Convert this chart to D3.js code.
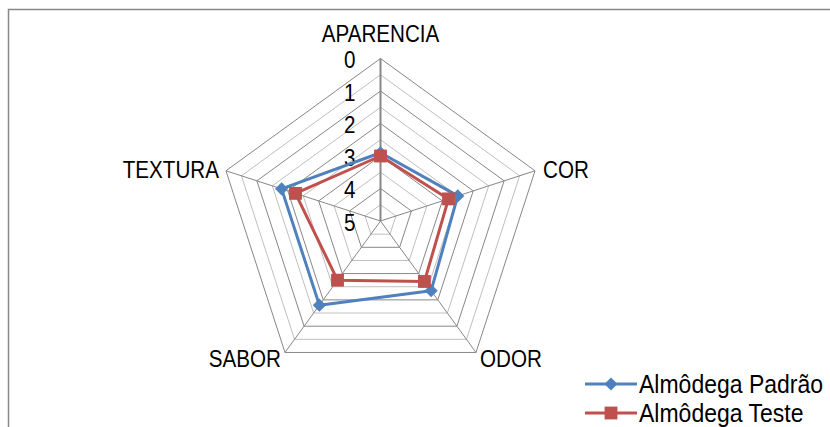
<!DOCTYPE html>
<html>
<head>
<meta charset="utf-8">
<script src="https://cdn.jsdelivr.net/npm/d3@7"></script>
<style>
  body { margin: 0; background: #fff; }
  svg { display: block; }
  text { font-family: "Liberation Sans", Arial, sans-serif; fill: #000; }
</style>
</head>
<body>
<svg id="chart" width="830" height="427"></svg>
<script>
// sensory attributes (axes), clockwise from top
var categories = ["APARENCIA", "COR", "ODOR", "SABOR", "TEXTURA"];
var seriesNames = ["Almôdega Padrão", "Almôdega Teste"];
var padrao = [2.9, 2.5, 2.35, 1.8, 1.8];
var teste = [3.0, 2.8, 2.7, 2.75, 2.25];
var tickLabels = [0, 1, 2, 3, 4, 5];

var width = 830, height = 427;
var cx = 380.5, cy = 221, radius = 162.5;
var colors = ["#4F81BD", "#C0504D"];

var svg = d3.select("#chart");

// frame of the chart area (runs off the right and bottom edge)
svg.append("rect")
  .attr("x", 8.5).attr("y", 9.5)
  .attr("width", 840).attr("height", 440)
  .attr("fill", "none")
  .attr("stroke", "#888")
  .attr("stroke-width", 1.5);

// reversed radial scale: 0 at the rim, 5 at the centre
var r = d3.scaleLinear().domain([0, 5]).range([radius, 0]);
var angle = d3.scaleLinear().domain([0, categories.length]).range([0, 2 * Math.PI]);

function pt(i, v) {
  var a = angle(i);
  return [cx + r(v) * Math.sin(a), cy - r(v) * Math.cos(a)];
}

// the original font is a narrow face, so squeeze the text a bit
function place(x, y, sx) {
  return "translate(" + x + "," + y + ") scale(" + (sx || 0.86) + ",1)";
}

var g = svg.append("g");

// rings every half unit, darker on whole units
var rings = d3.range(0, 5, 0.5);
g.selectAll("polygon.ring")
  .data(rings.slice().reverse())
  .enter().append("polygon")
  .attr("class", "ring")
  .attr("points", function(v) {
    return categories.map(function(c, i) { return pt(i, v).join(","); }).join(" ");
  })
  .attr("fill", "none")
  .attr("stroke", function(v) { return v % 1 === 0 ? "#878787" : "#bfbfbf"; })
  .attr("stroke-width", 1);

// spokes
g.selectAll("line.spoke")
  .data(categories)
  .enter().append("line")
  .attr("class", "spoke")
  .attr("x1", cx).attr("y1", cy)
  .attr("x2", function(d, i) { return pt(i, 0)[0]; })
  .attr("y2", function(d, i) { return pt(i, 0)[1]; })
  .attr("stroke", "#878787")
  .attr("stroke-width", function(d, i) { return i === 0 ? 2 : 1; });

// value tick labels along the top axis
g.selectAll("text.tick")
  .data(tickLabels)
  .enter().append("text")
  .attr("class", "tick")
  .attr("transform", function(d) { return place(cx - 25, cy - r(d) + 1.5); })
  .attr("dy", "0.35em")
  .attr("text-anchor", "end")
  .style("font-size", "24px")
  .text(function(d) { return d; });

// category labels
var labelPos = [
  {x: cx, y: 42, anchor: "middle"},
  {x: 543, y: 178, anchor: "start"},
  {x: 480, y: 367, anchor: "start"},
  {x: 281, y: 367, anchor: "end"},
  {x: 219, y: 178, anchor: "end"}
];
g.selectAll("text.cat")
  .data(categories)
  .enter().append("text")
  .attr("class", "cat")
  .attr("transform", function(d, i) { return place(labelPos[i].x, labelPos[i].y); })
  .attr("text-anchor", function(d, i) { return labelPos[i].anchor; })
  .style("font-size", "24px")
  .text(function(d) { return d; });

// series
var line = d3.line()
  .x(function(d) { return d[0]; })
  .y(function(d) { return d[1]; })
  .curve(d3.curveLinearClosed);

var diamond = d3.symbol().type(d3.symbolDiamond2).size(110);
var square = d3.symbol().type(d3.symbolSquare).size(165);
var markerPaths = [diamond(), square()];

[padrao, teste].forEach(function(vals, s) {
  var pts = vals.map(function(v, i) { return pt(i, v); });
  var sg = g.append("g");
  sg.append("path")
    .attr("d", line(pts))
    .attr("fill", "none")
    .attr("stroke", colors[s])
    .attr("stroke-width", 3)
    .attr("stroke-linejoin", "round");
  sg.selectAll("path.mk")
    .data(pts)
    .enter().append("path")
    .attr("class", "mk")
    .attr("d", markerPaths[s])
    .attr("transform", function(d) { return "translate(" + d[0] + "," + d[1] + ")"; })
    .attr("fill", colors[s]);
});

// legend
var legend = svg.append("g");
var legendY = [384, 413];
seriesNames.forEach(function(name, s) {
  var lg = legend.append("g");
  lg.append("line")
    .attr("x1", 585).attr("x2", 637)
    .attr("y1", legendY[s]).attr("y2", legendY[s])
    .attr("stroke", colors[s]).attr("stroke-width", 3);
  lg.append("path")
    .attr("d", markerPaths[s])
    .attr("transform", "translate(611," + legendY[s] + ")")
    .attr("fill", colors[s]);
  lg.append("text")
    .attr("transform", place(639, legendY[s], 0.92))
    .attr("dy", "0.35em")
    .style("font-size", "25px")
    .text(name);
});
</script>
</body>
</html>
